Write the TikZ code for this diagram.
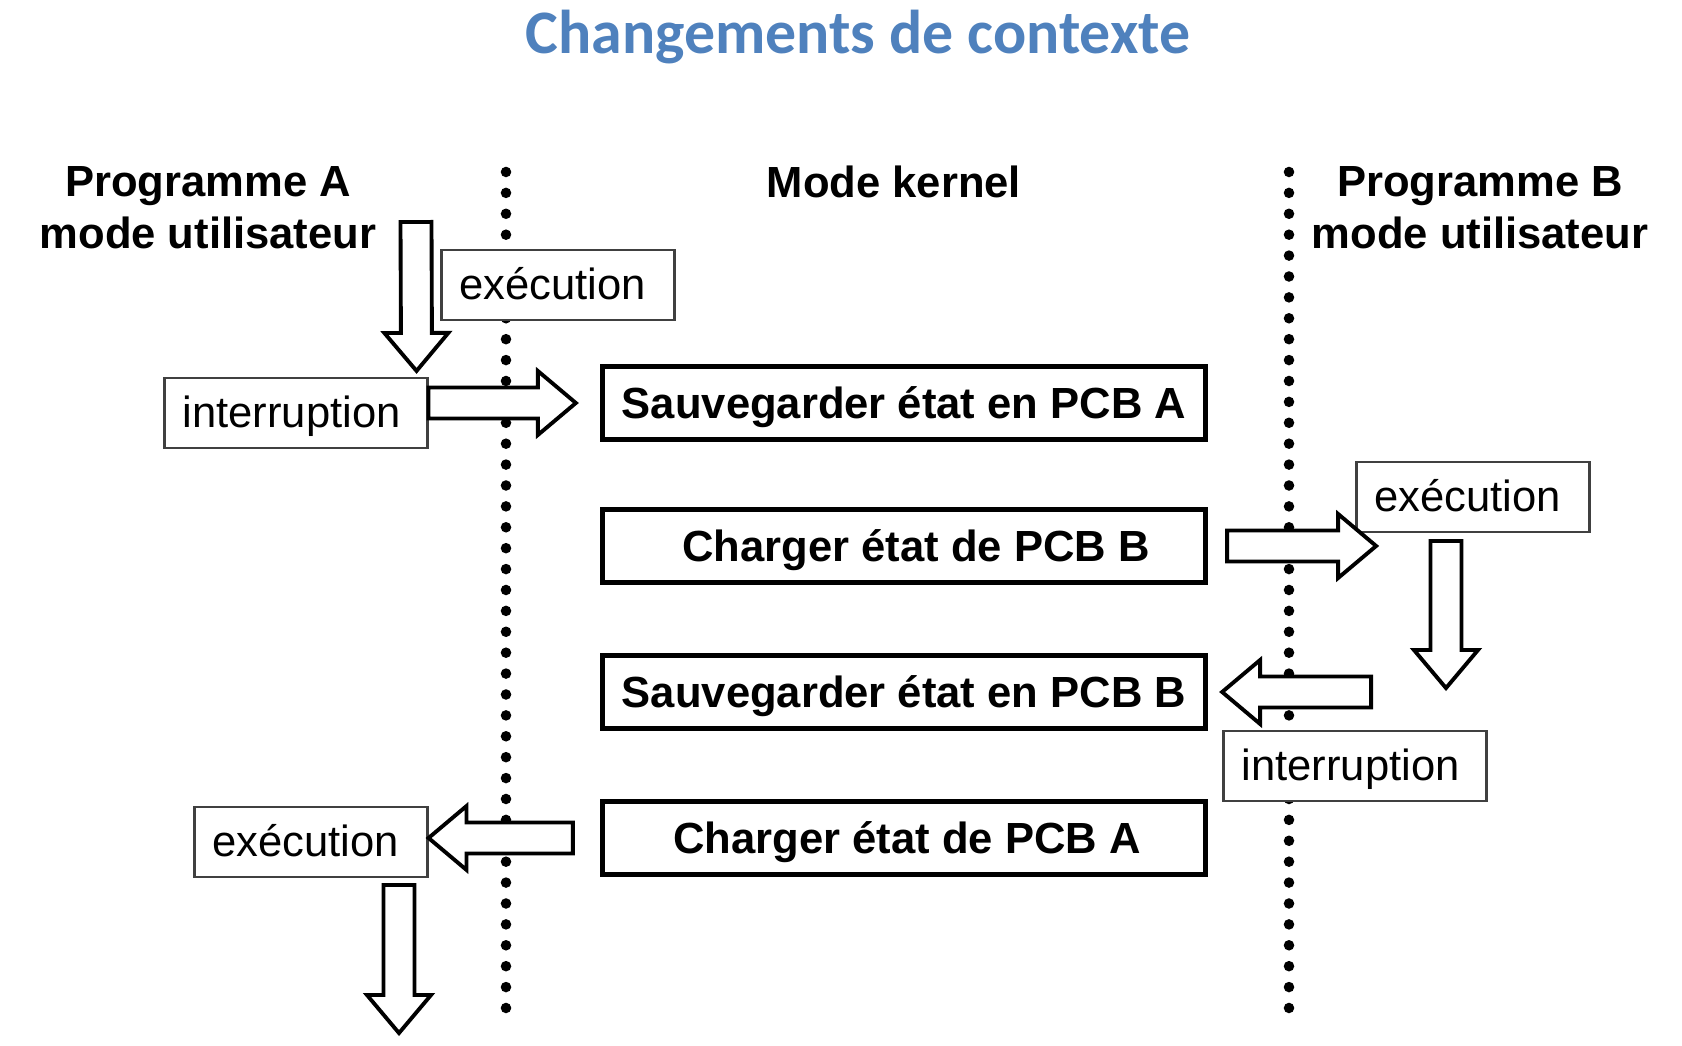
\documentclass[tikz,border=0pt]{standalone}
\usepackage{fontspec}
\setmainfont{Liberation Sans}
\newfontfamily\titrefont{Carlito}
\usetikzlibrary{calc}
\definecolor{titrebleu}{RGB}{79,129,189}

\begin{document}
\begin{tikzpicture}[auto,>=latex,
  every node/.style={font=\fontsize{12.4}{14.8}\selectfont},
  titre/.style={font=\titrefont\fontsize{17.6}{20}\selectfont\bfseries, text=titrebleu},
  entete/.style={font=\fontsize{12.4}{14.8}\selectfont\bfseries, align=center, inner sep=0pt},
  etape/.style={draw, fill=white, line width=1.5pt, minimum width=6.03cm, minimum height=0.73cm,
    text height=0.31cm, text depth=0pt, font=\fontsize{12.4}{14.8}\selectfont\bfseries},
  etiq/.style={draw=black!75, fill=white, line width=0.6pt, minimum height=0.70cm,
    text height=0.30cm, text depth=0pt, inner xsep=0.18cm, text width=#1, align=left},
  pointille/.style={line width=3pt, line cap=round, dash pattern=on 0pt off 0.209cm},
  fleche/.style={draw, fill=white, line width=1.1pt, line join=miter,
    to path={let \p1=(\tikztostart), \p2=(\tikztotarget),
      \n1={atan2(\y2-\y1,\x2-\x1)}, \n2={veclen(\x2-\x1,\y2-\y1)} in
      {[shift={(\p1)}, rotate=\n1]
        (0cm,-0.155cm) -- ({\n2-0.38cm},-0.155cm) -- ({\n2-0.38cm},-0.32cm) -- (\n2,0cm)
        -- ({\n2-0.38cm},0.32cm) -- ({\n2-0.38cm},0.155cm) -- (0cm,0.155cm) -- cycle}}}
]
\useasboundingbox (0,0) rectangle (16.82,-10.46);

% titre
\node[titre, anchor=base] (titre) at (8.58,-0.535) {Changements de contexte};

% les trois colonnes
\node[entete, anchor=north] (progA) at (2.08,-1.66) {Programme A\\mode utilisateur};
\node[entete, anchor=base] (kernel) at (8.94,-1.98) {Mode kernel};
\node[entete, anchor=north] (progB) at (14.80,-1.66) {Programme B\\mode utilisateur};

% frontieres
\coordinate (kh) at (5.06,-1.72);
\coordinate (kb) at (5.06,-10.08);
\coordinate (uh) at (12.89,-1.72);
\coordinate (ub) at (12.89,-10.08);
\draw[pointille] (kh) -- (kb);
\draw[pointille] (uh) -- (ub);

% etapes du noyau
\node[etape] (saveA) at (9.04,-4.03) {Sauvegarder état en PCB A};
\node[etape] (loadB) at (9.04,-5.46) {\hspace*{0.24cm}Charger état de PCB B};
\node[etape] (saveB) at (9.04,-6.92) {Sauvegarder état en PCB B};
\node[etape] (loadA) at (9.04,-8.38) {\hspace*{0.06cm}Charger état de PCB A};

% etiquettes
\node[etiq=1.97cm] (execA) at (5.58,-2.85) {exécution};
\node[etiq=2.27cm] (intA) at (2.96,-4.13) {interruption};
\node[etiq=1.97cm] (execB) at (14.73,-4.97) {exécution};
\node[etiq=2.27cm] (intB) at (13.55,-7.66) {interruption};
\node[etiq=1.97cm] (execA2) at (3.11,-8.42) {exécution};

% fleches
\coordinate (a1) at (4.16,-2.22);
\coordinate (a1b) at ($(intA.north east)+(-0.12,0.06)$);
\draw[fleche] (a1) to (a1b);
\draw[fleche] (intA.east |- saveA) to ($(saveA.west)+(-0.24,0)$);
\draw[fleche] ($(loadB.east)+(0.19,0)$) to ($(loadB.east)+(1.68,0)$);
\draw[fleche] ($(execB.south)+(-0.27,-0.08)$) to ($(execB.south)+(-0.27,-1.55)$);
\draw[fleche] ($(saveB.east)+(1.63,0)$) to ($(saveB.east)+(0.14,0)$);
\draw[fleche] ($(loadA.west)+(-0.27,0)$) to (execA2.east |- loadA);
\draw[fleche] ($(execA2.south)+(0.88,-0.07)$) to ($(execA2.south)+(0.88,-1.55)$);
\end{tikzpicture}
\end{document}
